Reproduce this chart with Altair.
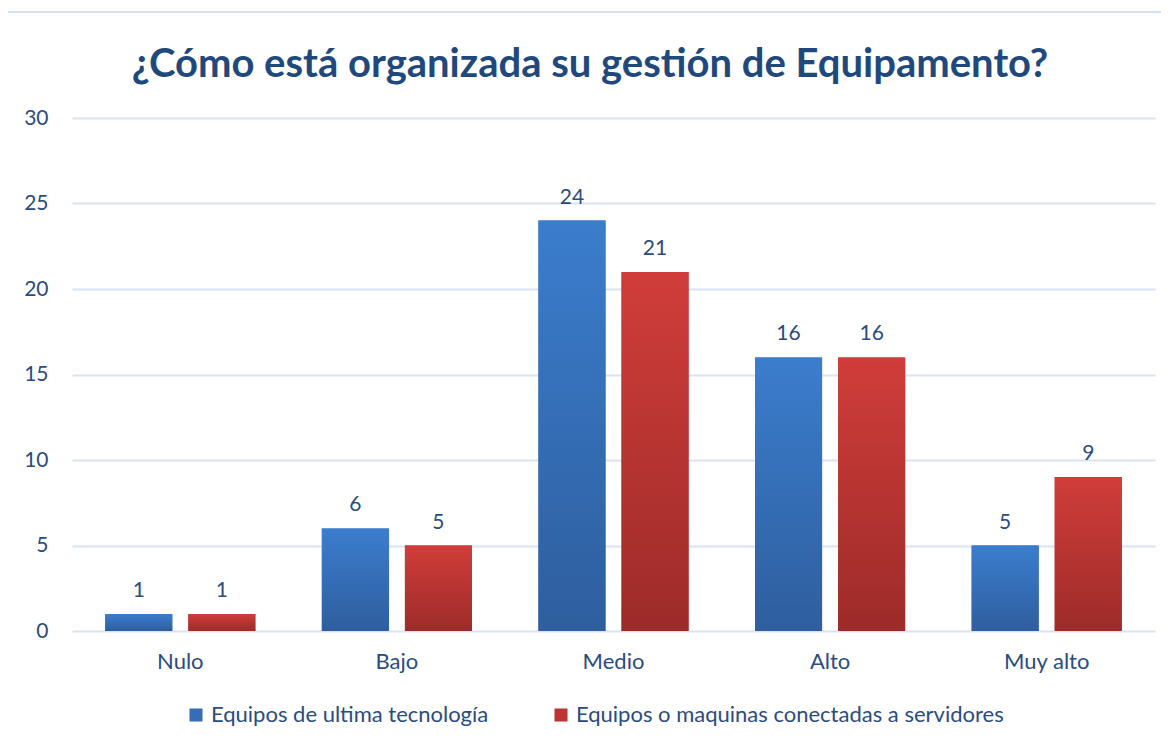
import altair as alt
import pandas as pd

title_text = "¿Cómo está organizada su gestión de Equipamento?"
categories = ["Nulo", "Bajo", "Medio", "Alto", "Muy alto"]
series_names = ["Equipos de ultima tecnología", "Equipos o maquinas conectadas a servidores"]
values_tech = [1, 6, 24, 16, 5]
values_serv = [1, 5, 21, 16, 9]
y_ticks = [0, 5, 10, 15, 20, 25, 30]

rows = []
for c, v in zip(categories, values_tech):
    rows.append({"cat": c, "serie": series_names[0], "val": v})
for c, v in zip(categories, values_serv):
    rows.append({"cat": c, "serie": series_names[1], "val": v})
df = pd.DataFrame(rows)

FONT = "Lato"
TXT = "#2B4C7E"

x_enc = alt.X("cat:N", sort=categories, title=None,
              scale=alt.Scale(paddingInner=0, paddingOuter=0),
              axis=alt.Axis(labelAngle=0, labelPadding=20, labelFontSize=22, labelColor=TXT,
                            labelFont=FONT, ticks=False, domain=False, grid=False))
xo_enc = alt.XOffset("serie:N", sort=series_names,
                     scale=alt.Scale(paddingInner=0.193, paddingOuter=0.4))
y_enc = alt.Y("val:Q", title=None,
              scale=alt.Scale(domain=[0, 30]),
              axis=alt.Axis(values=y_ticks, labelPadding=24, labelFontSize=21, labelColor=TXT,
                            labelFont=FONT, ticks=False, domain=False, grid=True,
                            gridColor="#D9E3F3", gridWidth=2))

base = alt.Chart(df)

legend_bars = base.mark_bar().encode(
    x=x_enc, xOffset=xo_enc, y=y_enc,
    color=alt.Color("serie:N", sort=series_names, title=None,
                    scale=alt.Scale(domain=series_names, range=["#356DB9", "#BD3533"]),
                    legend=alt.Legend(orient="none", legendX=113, legendY=586, direction="horizontal",
                                      symbolType="square", symbolSize=170, labelFontSize=22,
                                      labelFont=FONT, labelColor=TXT, columnPadding=61,
                                      symbolOffset=0, labelOffset=4, labelLimit=600))
)

blue_grad = alt.Gradient(gradient="linear", x1=0, y1=0, x2=0, y2=1,
                         stops=[alt.GradientStop(color="#3B7DCD", offset=0),
                                alt.GradientStop(color="#2E5E9E", offset=1)])
red_grad = alt.Gradient(gradient="linear", x1=0, y1=0, x2=0, y2=1,
                        stops=[alt.GradientStop(color="#D03D3A", offset=0),
                               alt.GradientStop(color="#9D2B29", offset=1)])

blue_bars = base.transform_filter(alt.datum.serie == series_names[0]).mark_bar(fill=blue_grad).encode(
    x=x_enc, xOffset=xo_enc, y=y_enc)
red_bars = base.transform_filter(alt.datum.serie == series_names[1]).mark_bar(fill=red_grad).encode(
    x=x_enc, xOffset=xo_enc, y=y_enc)

labels = base.mark_text(dy=-13, fontSize=21, font=FONT, color=TXT, baseline="bottom").encode(
    x=x_enc, xOffset=xo_enc, y=y_enc, text="val:Q")

one = pd.DataFrame({"t": [title_text]})
border = alt.Chart(one).mark_rect(
    fill=None, stroke="#D5E2F4", strokeWidth=2, clip=False).encode(
    x=alt.value(-65), x2=alt.value(1250), y=alt.value(-106), y2=alt.value(760))

title = alt.Chart(one).mark_text(
    font=FONT, fontSize=40, fontWeight="bold", color="#1F497D", align="center",
    baseline="alphabetic").encode(
    x=alt.value(518), y=alt.value(-41), text="t:N")

chart = alt.layer(border, legend_bars, blue_bars, red_bars, labels, title).properties(
    width=1083, height=513,
    padding={"left": 64, "top": 110, "right": 6, "bottom": 100},
    autosize=alt.AutoSizeParams(type="none"),
).configure_view(stroke=None)

chart.save("out.html", embed_options={"renderer": "svg", "actions": False})
